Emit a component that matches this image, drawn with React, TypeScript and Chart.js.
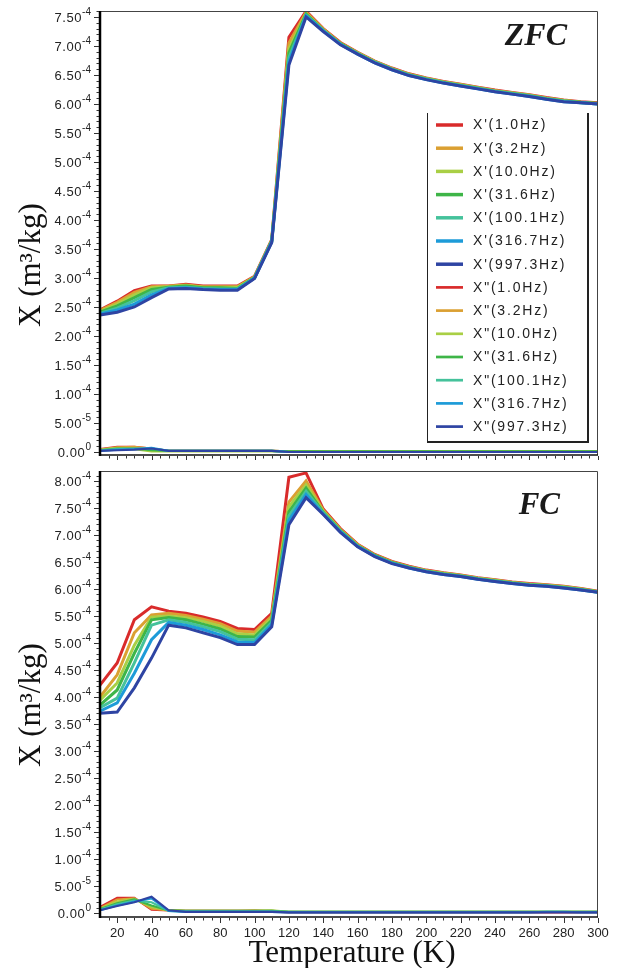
import React, { useEffect, useRef } from "react";
import { Chart, registerables } from "chart.js";

Chart.register(...registerables);

const UNIT = 1e-4;
const X_MIN = 10;
const X_MAX = 300;
const TEMPERATURES = [10, 20, 30, 40, 50, 60, 70, 80, 90, 100, 110, 120, 130, 140, 150, 160, 170, 180, 190, 200, 210, 220, 230, 240, 250, 260, 270, 280, 290, 300];
const FREQUENCIES = ["1.0Hz", "3.2Hz", "10.0Hz", "31.6Hz", "100.1Hz", "316.7Hz", "997.3Hz"];
const COLORS = ["#d92b2b", "#dba032", "#a9cf45", "#3eb548", "#45c29b", "#1d9bd8", "#2e44a3"];

// ZFC, X' (units of 1e-4 m3/kg)
const zfcReal_1_0 = [2.45, 2.60, 2.78, 2.86, 2.86, 2.89, 2.86, 2.86, 2.86, 3.03, 3.66, 7.15, 7.60, 7.30, 7.06, 6.89, 6.74, 6.62, 6.52, 6.45, 6.39, 6.34, 6.29, 6.24, 6.20, 6.16, 6.11, 6.07, 6.04, 6.02];
const zfcReal_3_2 = [2.44, 2.58, 2.75, 2.85, 2.86, 2.88, 2.85, 2.85, 2.85, 3.02, 3.65, 7.05, 7.58, 7.29, 7.05, 6.88, 6.73, 6.61, 6.51, 6.44, 6.38, 6.33, 6.28, 6.23, 6.19, 6.15, 6.10, 6.06, 6.03, 6.01];
const zfcReal_10_0 = [2.42, 2.55, 2.71, 2.83, 2.85, 2.87, 2.84, 2.84, 2.84, 3.01, 3.64, 6.95, 7.56, 7.28, 7.04, 6.88, 6.73, 6.61, 6.51, 6.44, 6.38, 6.33, 6.28, 6.23, 6.19, 6.15, 6.10, 6.06, 6.03, 6.01];
const zfcReal_31_6 = [2.41, 2.52, 2.66, 2.80, 2.84, 2.86, 2.83, 2.83, 2.82, 3.01, 3.64, 6.88, 7.55, 7.27, 7.04, 6.87, 6.72, 6.60, 6.50, 6.43, 6.37, 6.32, 6.27, 6.22, 6.18, 6.14, 6.09, 6.05, 6.03, 6.01];
const zfcReal_100_1 = [2.39, 2.48, 2.61, 2.76, 2.83, 2.84, 2.82, 2.81, 2.81, 3.00, 3.63, 6.80, 7.53, 7.27, 7.03, 6.87, 6.72, 6.60, 6.50, 6.43, 6.37, 6.32, 6.27, 6.22, 6.18, 6.14, 6.09, 6.05, 6.02, 6.00];
const zfcReal_316_7 = [2.38, 2.45, 2.55, 2.71, 2.82, 2.83, 2.81, 2.80, 2.80, 3.00, 3.62, 6.73, 7.52, 7.26, 7.03, 6.86, 6.71, 6.59, 6.49, 6.42, 6.36, 6.31, 6.26, 6.21, 6.17, 6.13, 6.08, 6.04, 6.02, 6.00];
const zfcReal_997_3 = [2.36, 2.41, 2.50, 2.66, 2.81, 2.82, 2.80, 2.79, 2.79, 2.99, 3.61, 6.67, 7.50, 7.25, 7.02, 6.86, 6.71, 6.59, 6.49, 6.42, 6.36, 6.31, 6.26, 6.21, 6.17, 6.13, 6.08, 6.04, 6.02, 6.00];

// ZFC, X''
const zfcImag_1_0 = [0.05, 0.09, 0.09, 0.06, 0.02, 0.02, 0.02, 0.02, 0.02, 0.02, 0.02, 0.01, 0.01, 0.01, 0.01, 0.01, 0.01, 0.01, 0.01, 0.01, 0.01, 0.01, 0.01, 0.01, 0.01, 0.01, 0.01, 0.01, 0.01, 0.01];
const zfcImag_3_2 = [0.04, 0.08, 0.09, 0.06, 0.02, 0.02, 0.02, 0.02, 0.02, 0.02, 0.02, 0.01, 0.01, 0.01, 0.01, 0.01, 0.01, 0.01, 0.01, 0.01, 0.01, 0.01, 0.01, 0.01, 0.01, 0.01, 0.01, 0.01, 0.01, 0.01];
const zfcImag_10_0 = [0.04, 0.07, 0.05, 0.01, 0.01, 0.01, 0.01, 0.01, 0.01, 0.01, 0.01, 0.01, 0.01, 0.01, 0.01, 0.01, 0.01, 0.01, 0.01, 0.01, 0.01, 0.01, 0.01, 0.01, 0.01, 0.01, 0.01, 0.01, 0.01, 0.01];
const zfcImag_31_6 = [0.03, 0.06, 0.06, 0.03, 0.02, 0.02, 0.02, 0.02, 0.02, 0.02, 0.02, 0.01, 0.01, 0.01, 0.01, 0.01, 0.01, 0.01, 0.01, 0.01, 0.01, 0.01, 0.01, 0.01, 0.01, 0.01, 0.01, 0.01, 0.01, 0.01];
const zfcImag_100_1 = [0.03, 0.05, 0.06, 0.06, 0.02, 0.02, 0.02, 0.02, 0.02, 0.02, 0.02, 0.00, 0.00, 0.00, 0.00, 0.00, 0.00, 0.00, 0.00, 0.00, 0.00, 0.00, 0.00, 0.00, 0.00, 0.00, 0.00, 0.00, 0.00, 0.00];
const zfcImag_316_7 = [0.02, 0.04, 0.05, 0.07, 0.02, 0.02, 0.02, 0.02, 0.02, 0.02, 0.02, 0.00, 0.00, 0.00, 0.00, 0.00, 0.00, 0.00, 0.00, 0.00, 0.00, 0.00, 0.00, 0.00, 0.00, 0.00, 0.00, 0.00, 0.00, 0.00];
const zfcImag_997_3 = [0.02, 0.03, 0.04, 0.06, 0.02, 0.02, 0.02, 0.02, 0.02, 0.02, 0.02, 0.00, 0.00, 0.00, 0.00, 0.00, 0.00, 0.00, 0.00, 0.00, 0.00, 0.00, 0.00, 0.00, 0.00, 0.00, 0.00, 0.00, 0.00, 0.00];

// FC, X'
const fcReal_1_0 = [4.22, 4.63, 5.43, 5.67, 5.59, 5.55, 5.48, 5.40, 5.27, 5.25, 5.55, 8.07, 8.15, 7.48, 7.12, 6.83, 6.64, 6.51, 6.42, 6.35, 6.30, 6.26, 6.21, 6.17, 6.13, 6.10, 6.08, 6.05, 6.01, 5.96];
const fcReal_3_2 = [4.00, 4.41, 5.19, 5.52, 5.55, 5.51, 5.44, 5.36, 5.22, 5.20, 5.50, 7.61, 8.00, 7.46, 7.10, 6.82, 6.63, 6.50, 6.41, 6.34, 6.29, 6.25, 6.20, 6.16, 6.12, 6.09, 6.07, 6.04, 6.00, 5.95];
const fcReal_10_0 = [3.94, 4.26, 4.96, 5.48, 5.50, 5.47, 5.40, 5.31, 5.17, 5.15, 5.46, 7.52, 7.93, 7.44, 7.09, 6.81, 6.62, 6.49, 6.41, 6.34, 6.29, 6.25, 6.20, 6.16, 6.12, 6.09, 6.07, 6.04, 6.00, 5.95];
const fcReal_31_6 = [3.85, 4.13, 4.81, 5.43, 5.47, 5.43, 5.35, 5.26, 5.12, 5.11, 5.42, 7.43, 7.87, 7.42, 7.08, 6.80, 6.62, 6.49, 6.40, 6.33, 6.28, 6.24, 6.19, 6.15, 6.11, 6.08, 6.06, 6.03, 5.99, 5.95];
const fcReal_100_1 = [3.80, 3.98, 4.63, 5.33, 5.43, 5.38, 5.30, 5.21, 5.07, 5.06, 5.38, 7.35, 7.81, 7.41, 7.07, 6.79, 6.61, 6.48, 6.40, 6.33, 6.28, 6.24, 6.19, 6.15, 6.11, 6.08, 6.06, 6.03, 5.99, 5.94];
const fcReal_316_7 = [3.74, 3.89, 4.44, 5.06, 5.38, 5.33, 5.25, 5.15, 5.02, 5.01, 5.34, 7.27, 7.75, 7.39, 7.06, 6.79, 6.61, 6.48, 6.39, 6.32, 6.27, 6.23, 6.18, 6.14, 6.10, 6.07, 6.05, 6.02, 5.98, 5.94];
const fcReal_997_3 = [3.70, 3.72, 4.17, 4.72, 5.33, 5.28, 5.19, 5.10, 4.97, 4.97, 5.30, 7.19, 7.69, 7.38, 7.05, 6.78, 6.60, 6.47, 6.39, 6.32, 6.27, 6.23, 6.18, 6.14, 6.10, 6.07, 6.05, 6.02, 5.98, 5.94];

// FC, X''
const fcImag_1_0 = [0.11, 0.28, 0.28, 0.06, 0.05, 0.04, 0.04, 0.04, 0.04, 0.04, 0.03, 0.01, 0.01, 0.01, 0.01, 0.01, 0.01, 0.01, 0.01, 0.01, 0.01, 0.01, 0.01, 0.01, 0.01, 0.01, 0.01, 0.01, 0.01, 0.01];
const fcImag_3_2 = [0.09, 0.25, 0.27, 0.08, 0.05, 0.04, 0.04, 0.04, 0.04, 0.05, 0.04, 0.02, 0.02, 0.02, 0.02, 0.02, 0.02, 0.02, 0.02, 0.02, 0.02, 0.02, 0.02, 0.02, 0.02, 0.02, 0.02, 0.02, 0.02, 0.02];
const fcImag_10_0 = [0.08, 0.21, 0.26, 0.11, 0.05, 0.04, 0.04, 0.04, 0.04, 0.04, 0.05, 0.02, 0.02, 0.02, 0.02, 0.02, 0.02, 0.02, 0.02, 0.02, 0.02, 0.02, 0.02, 0.02, 0.02, 0.02, 0.02, 0.02, 0.02, 0.02];
const fcImag_31_6 = [0.07, 0.18, 0.25, 0.14, 0.05, 0.04, 0.04, 0.04, 0.04, 0.04, 0.04, 0.02, 0.02, 0.02, 0.02, 0.02, 0.02, 0.02, 0.02, 0.02, 0.02, 0.02, 0.02, 0.02, 0.02, 0.02, 0.02, 0.02, 0.02, 0.02];
const fcImag_100_1 = [0.06, 0.16, 0.23, 0.20, 0.04, 0.03, 0.03, 0.03, 0.03, 0.03, 0.03, 0.02, 0.02, 0.02, 0.02, 0.02, 0.02, 0.02, 0.02, 0.02, 0.02, 0.02, 0.02, 0.02, 0.02, 0.02, 0.02, 0.02, 0.02, 0.02];
const fcImag_316_7 = [0.05, 0.14, 0.21, 0.27, 0.04, 0.02, 0.02, 0.02, 0.02, 0.02, 0.02, 0.01, 0.01, 0.01, 0.01, 0.01, 0.01, 0.01, 0.01, 0.01, 0.01, 0.01, 0.01, 0.01, 0.01, 0.01, 0.02, 0.02, 0.01, 0.01];
const fcImag_997_3 = [0.05, 0.13, 0.20, 0.30, 0.05, 0.02, 0.02, 0.02, 0.02, 0.02, 0.02, 0.01, 0.01, 0.01, 0.01, 0.01, 0.01, 0.01, 0.01, 0.01, 0.01, 0.01, 0.01, 0.01, 0.01, 0.01, 0.01, 0.01, 0.01, 0.01];

const ZFC_REAL = [zfcReal_1_0, zfcReal_3_2, zfcReal_10_0, zfcReal_31_6, zfcReal_100_1, zfcReal_316_7, zfcReal_997_3];
const ZFC_IMAG = [zfcImag_1_0, zfcImag_3_2, zfcImag_10_0, zfcImag_31_6, zfcImag_100_1, zfcImag_316_7, zfcImag_997_3];
const FC_REAL = [fcReal_1_0, fcReal_3_2, fcReal_10_0, fcReal_31_6, fcReal_100_1, fcReal_316_7, fcReal_997_3];
const FC_IMAG = [fcImag_1_0, fcImag_3_2, fcImag_10_0, fcImag_31_6, fcImag_100_1, fcImag_316_7, fcImag_997_3];

const Y_TICKS_ZFC = [0, 0.5, 1, 1.5, 2, 2.5, 3, 3.5, 4, 4.5, 5, 5.5, 6, 6.5, 7, 7.5];
const Y_TICKS_FC = [0, 0.5, 1, 1.5, 2, 2.5, 3, 3.5, 4, 4.5, 5, 5.5, 6, 6.5, 7, 7.5, 8];
const X_TICKS = [20, 40, 60, 80, 100, 120, 140, 160, 180, 200, 220, 240, 260, 280, 300];
const Y_MINOR_STEP = 0.1;
const X_MINOR_STEP = 5;

const SANS = '"Liberation Sans", Arial, sans-serif';
const SERIF = '"Liberation Serif", "Times New Roman", serif';

function formatTick(v: number): [string, string] {
  if (v === 0) return ["0.00", "0"];
  if (v < 1) return [(v * 10).toFixed(2), "-5"];
  return [v.toFixed(2), "-4"];
}

function buildDatasets(real: number[][], imag: number[][]) {
  const ds: any[] = [];
  real.forEach((vals, i) => {
    ds.push({
      label: `X'(${FREQUENCIES[i]})`,
      data: TEMPERATURES.map((t, j) => ({ x: t, y: vals[j] * UNIT })),
      borderColor: COLORS[i],
      backgroundColor: COLORS[i],
      borderWidth: 3,
      pointRadius: 0,
      tension: 0,
      fill: false,
      order: 100 - i,
    });
  });
  imag.forEach((vals, i) => {
    ds.push({
      label: `X"(${FREQUENCIES[i]})`,
      data: TEMPERATURES.map((t, j) => ({ x: t, y: vals[j] * UNIT })),
      borderColor: COLORS[i],
      backgroundColor: COLORS[i],
      borderWidth: 2.2,
      pointRadius: 0,
      tension: 0,
      fill: false,
      order: 50 - i,
    });
  });
  return ds;
}

type PanelCfg = {
  tag: string;
  tagRight: number;
  tagBaseline: number;
  tagSize: number;
  yMin: number;
  yMax: number;
  yTicks: number[];
  plotBottom: number;
  titleX: number;
  titleY: number;
  showXLabels: boolean;
  showLegend: boolean;
};

function decorPlugin(cfg: PanelCfg) {
  return {
    id: "decor",
    afterDraw(chart: any) {
      const ctx: CanvasRenderingContext2D = chart.ctx;
      const { left, right, top, bottom } = chart.chartArea;
      const xs = chart.scales.x;
      const ys = chart.scales.y;
      ctx.save();

      // frame (top & right)
      ctx.strokeStyle = "#444";
      ctx.lineWidth = 1;
      ctx.beginPath();
      ctx.moveTo(left, top + 0.5);
      ctx.lineTo(right - 0.5, top + 0.5);
      ctx.lineTo(right - 0.5, bottom);
      ctx.stroke();

      // bottom axis
      ctx.strokeStyle = "#111";
      ctx.lineWidth = 1.5;
      ctx.beginPath();
      ctx.moveTo(left, bottom);
      ctx.lineTo(right, bottom);
      ctx.stroke();

      // left axis
      ctx.strokeStyle = "#000";
      ctx.lineWidth = 2.5;
      ctx.beginPath();
      ctx.moveTo(left, top);
      ctx.lineTo(left, bottom + 1);
      ctx.stroke();

      // y ticks
      ctx.strokeStyle = "#333";
      ctx.lineWidth = 1;
      for (let k = 0; ; k++) {
        const v = k * Y_MINOR_STEP;
        if (v * UNIT > ys.max) break;
        const y = Math.round(ys.getPixelForValue(v * UNIT)) + 0.5;
        const major = k % 5 === 0;
        ctx.beginPath();
        ctx.moveTo(left - (major ? 6 : 3.5), y);
        ctx.lineTo(left - 1, y);
        ctx.stroke();
      }

      // x ticks
      for (let t = xs.min + X_MINOR_STEP; t <= xs.max + 0.01; t += X_MINOR_STEP) {
        const x = Math.round(xs.getPixelForValue(t)) + 0.5;
        const major = t % 20 === 0;
        ctx.beginPath();
        ctx.moveTo(x, bottom + 1);
        ctx.lineTo(x, bottom + (major ? 6 : 3.5));
        ctx.stroke();
      }

      // y labels
      ctx.fillStyle = "#222";
      ctx.textBaseline = "middle";
      ctx.textAlign = "right";
      cfg.yTicks.forEach((v) => {
        const y = ys.getPixelForValue(v * UNIT);
        const [mant, exp] = formatTick(v);
        ctx.font = `10px ${SANS}`;
        (ctx as any).letterSpacing = "0px";
        const ew = ctx.measureText(exp).width;
        ctx.fillText(exp, left - 9, y - 5);
        ctx.font = `13px ${SANS}`;
        (ctx as any).letterSpacing = "0.6px";
        ctx.fillText(mant, left - 9 - ew, y + 1.5);
      });
      (ctx as any).letterSpacing = "0px";

      // x labels + title
      if (cfg.showXLabels) {
        ctx.font = `13px ${SANS}`;
        ctx.textAlign = "center";
        ctx.textBaseline = "middle";
        X_TICKS.forEach((t) => {
          ctx.fillText(String(t), xs.getPixelForValue(t), bottom + 16);
        });
        ctx.font = `31px ${SERIF}`;
        ctx.textBaseline = "alphabetic";
        ctx.fillStyle = "#111";
        ctx.fillText("Temperature (K)", (left + right) / 2 + 3, bottom + 45);
      }

      // y title
      ctx.save();
      ctx.fillStyle = "#111";
      ctx.translate(cfg.titleX, cfg.titleY);
      ctx.rotate(-Math.PI / 2);
      ctx.font = `31px ${SERIF}`;
      ctx.textAlign = "left";
      ctx.textBaseline = "alphabetic";
      ctx.fillText("X (m³/kg)", 0, 0);
      ctx.restore();

      // panel tag
      ctx.fillStyle = "#1a1a1a";
      ctx.font = `italic bold ${cfg.tagSize}px ${SERIF}`;
      ctx.textAlign = "right";
      ctx.textBaseline = "alphabetic";
      ctx.fillText(cfg.tag, cfg.tagRight, cfg.tagBaseline);

      // legend
      if (cfg.showLegend) {
        const L = { left: 427, right: 588, top: 113, bottom: 442, firstY: 125, step: 23.2 };
        ctx.fillStyle = "#fff";
        ctx.fillRect(L.left, L.top, L.right - L.left, L.bottom - L.top);
        ctx.strokeStyle = "#222";
        ctx.lineWidth = 1;
        ctx.beginPath();
        ctx.moveTo(L.left + 0.5, L.top);
        ctx.lineTo(L.left + 0.5, L.bottom);
        ctx.stroke();
        ctx.lineWidth = 2;
        ctx.beginPath();
        ctx.moveTo(L.left, L.bottom);
        ctx.lineTo(L.right, L.bottom);
        ctx.lineTo(L.right, L.top);
        ctx.stroke();
        chart.data.datasets.forEach((ds: any, i: number) => {
          const y = L.firstY + i * L.step;
          ctx.strokeStyle = ds.borderColor;
          ctx.lineWidth = ds.borderWidth + 0.5;
          ctx.beginPath();
          ctx.moveTo(436, y);
          ctx.lineTo(463, y);
          ctx.stroke();
          ctx.fillStyle = "#222";
          ctx.font = `14px ${SANS}`;
          (ctx as any).letterSpacing = "1.8px";
          ctx.textAlign = "left";
          ctx.textBaseline = "middle";
          ctx.fillText(ds.label, 473, y + 0.5);
        });
        (ctx as any).letterSpacing = "0px";
      }
      ctx.restore();
    },
  };
}

function Panel(props: { real: number[][]; imag: number[][]; cfg: PanelCfg; height: number; top: number }) {
  const { real, imag, cfg, height, top } = props;
  const ref = useRef<HTMLCanvasElement | null>(null);
  useEffect(() => {
    if (!ref.current) return;
    const chart = new Chart(ref.current, {
      type: "line",
      data: { datasets: buildDatasets(real, imag) },
      options: {
        animation: false,
        responsive: false,
        maintainAspectRatio: false,
        devicePixelRatio: 1,
        layout: { padding: { left: 0, right: 25, top: 11, bottom: 0 } },
        plugins: { legend: { display: false }, tooltip: { enabled: false } },
        scales: {
          x: {
            type: "linear",
            min: X_MIN,
            max: X_MAX,
            grid: { display: false },
            border: { display: false },
            ticks: { display: false },
            afterFit: (s: any) => {
              s.height = height - cfg.plotBottom;
            },
          },
          y: {
            type: "linear",
            min: cfg.yMin * UNIT,
            max: cfg.yMax * UNIT,
            grid: { display: false },
            border: { display: false },
            ticks: { display: false },
            afterFit: (s: any) => {
              s.width = 100;
            },
          },
        },
      } as any,
      plugins: [decorPlugin(cfg)],
    });
    return () => chart.destroy();
  }, []);
  return (
    <canvas
      ref={ref}
      width={623}
      height={height}
      style={{ position: "absolute", left: 0, top, display: "block", width: 623, height }}
    />
  );
}

const ZFC_CFG: PanelCfg = {
  tag: "ZFC",
  tagRight: 567,
  tagBaseline: 45,
  tagSize: 32,
  yMin: -0.052,
  yMax: 7.603,
  yTicks: Y_TICKS_ZFC,
  plotBottom: 455,
  titleX: 40,
  titleY: 327,
  showXLabels: false,
  showLegend: true,
};

const FC_CFG: PanelCfg = {
  tag: "FC",
  tagRight: 560,
  tagBaseline: 54,
  tagSize: 31,
  yMin: -0.074,
  yMax: 8.185,
  yTicks: Y_TICKS_FC,
  plotBottom: 457,
  titleX: 40,
  titleY: 307,
  showXLabels: true,
  showLegend: false,
};

export default function App() {
  return (
    <div style={{ position: "relative", width: 623, height: 968, overflow: "hidden", background: "#fff" }}>
      <style>{`html,body{margin:0;padding:0;overflow:hidden;background:#fff;}`}</style>
      <Panel real={ZFC_REAL} imag={ZFC_IMAG} cfg={ZFC_CFG} height={460} top={0} />
      <Panel real={FC_REAL} imag={FC_IMAG} cfg={FC_CFG} height={508} top={460} />
    </div>
  );
}
